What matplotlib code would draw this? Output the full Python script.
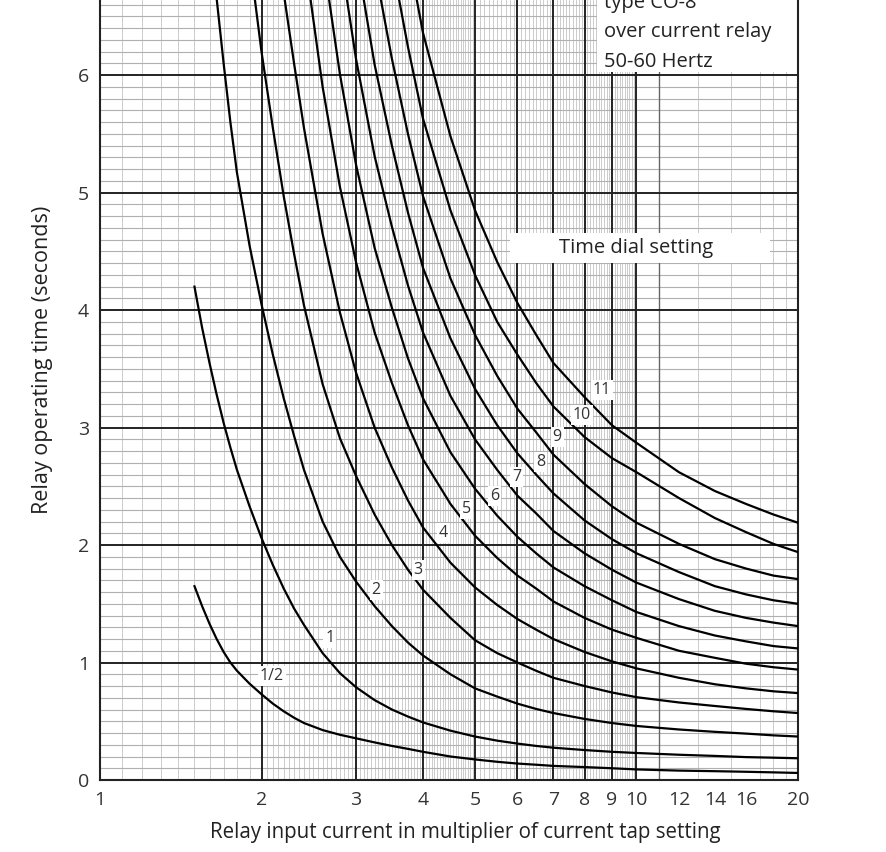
import numpy as np
import matplotlib
matplotlib.use('Agg')
import matplotlib.pyplot as plt
from matplotlib.patches import Rectangle
from matplotlib.ticker import FixedLocator, NullFormatter

plt.rcParams['font.family'] = ['Open Sans', 'DejaVu Sans']

nan = np.nan
# multiplier of current tap setting (x) at which the curves were read
multiplier = [1.5, 1.55, 1.6, 1.65, 1.7, 1.75, 1.8, 1.9, 2.0, 2.1, 2.2, 2.3, 2.4, 2.6, 2.8,
              3.0, 3.25, 3.5, 3.75, 4.0, 4.5, 5.0, 5.5, 6.0, 6.5, 7.0, 8.0, 9.0, 10.0,
              12.0, 14.0, 16.0, 18.0, 20.0]

# operating time (s) for each time dial setting (nan = not drawn there)
td_half = [1.65, 1.48, 1.33, 1.20, 1.09, 1.00, 0.93, 0.82, 0.73, 0.65, 0.585, 0.53, 0.485,
           0.425, 0.385, 0.355, 0.32, 0.29, 0.265, 0.24, 0.20, 0.175, 0.155, 0.14, 0.13,
           0.12, 0.11, 0.10, 0.09, 0.08, 0.075, 0.07, 0.065, 0.06]
td_1 = [4.2, 3.85, 3.55, 3.28, 3.04, 2.83, 2.64, 2.33, 2.06, 1.83, 1.63, 1.46, 1.32, 1.08,
        0.91, 0.79, 0.68, 0.60, 0.54, 0.49, 0.42, 0.37, 0.335, 0.31, 0.29, 0.275, 0.255,
        0.24, 0.23, 0.215, 0.205, 0.195, 0.19, 0.185]
td_2 = [nan] * 2 + [7.3, 6.65, 6.1, 5.6, 5.17, 4.55, 4.05, 3.62, 3.25, 2.93, 2.64, 2.2, 1.9,
                    1.69, 1.48, 1.31, 1.17, 1.06, 0.9, 0.78, 0.71, 0.65, 0.605, 0.57, 0.52,
                    0.485, 0.46, 0.43, 0.41, 0.395, 0.38, 0.37]
td_3 = [nan] * 6 + [7.9, 7.0, 6.2, 5.55, 4.97, 4.48, 4.04, 3.37, 2.91, 2.59, 2.26, 2.0, 1.79,
                    1.62, 1.38, 1.19, 1.08, 1.0, 0.93, 0.87, 0.8, 0.745, 0.705, 0.66, 0.63,
                    0.605, 0.585, 0.57]
td_4 = [nan] * 8 + [8.3, 7.4, 6.7, 6.1, 5.55, 4.65, 3.98, 3.47, 3.0, 2.66, 2.38, 2.15, 1.85,
                    1.64, 1.49, 1.37, 1.28, 1.2, 1.09, 1.01, 0.95, 0.87, 0.815, 0.78, 0.755,
                    0.74]
td_5 = [nan] * 11 + [7.75, 7.05, 5.9, 5.05, 4.41, 3.81, 3.38, 3.02, 2.73, 2.35, 2.08, 1.89,
                     1.74, 1.63, 1.52, 1.38, 1.28, 1.21, 1.10, 1.04, 0.99, 0.96, 0.94]
td_6 = [nan] * 12 + [8.38, 7.02, 6.01, 5.24, 4.53, 4.02, 3.59, 3.25, 2.79, 2.48, 2.25, 2.07,
                     1.93, 1.81, 1.65, 1.53, 1.43, 1.31, 1.23, 1.18, 1.14, 1.12]
td_7 = [nan] * 13 + [8.23, 7.04, 6.14, 5.31, 4.71, 4.21, 3.81, 3.27, 2.90, 2.64, 2.42, 2.27,
                     2.12, 1.93, 1.79, 1.68, 1.54, 1.44, 1.38, 1.34, 1.31]
td_8 = [nan] * 14 + [8.08, 7.04, 6.09, 5.40, 4.83, 4.36, 3.76, 3.33, 3.02, 2.78, 2.60, 2.44,
                     2.21, 2.05, 1.93, 1.77, 1.65, 1.58, 1.53, 1.50]
td_9 = [nan] * 15 + [8.02, 6.93, 6.14, 5.50, 4.97, 4.27, 3.79, 3.44, 3.16, 2.96, 2.77, 2.52,
                     2.33, 2.19, 2.01, 1.88, 1.80, 1.74, 1.71]
td_10 = [nan] * 16 + [7.86, 6.97, 6.24, 5.63, 4.85, 4.30, 3.90, 3.62, 3.38, 3.18, 2.92, 2.74,
                      2.62, 2.40, 2.23, 2.11, 2.01, 1.94]
td_11 = [nan] * 17 + [7.87, 7.04, 6.36, 5.48, 4.85, 4.41, 4.06, 3.79, 3.55, 3.26, 3.02, 2.87,
                      2.62, 2.46, 2.35, 2.26, 2.19]

curves = [td_half, td_1, td_2, td_3, td_4, td_5, td_6, td_7, td_8, td_9, td_10, td_11]
curve_labels = ['1/2', '1', '2', '3', '4', '5', '6', '7', '8', '9', '10', '11']
# where each dial label sits (x multiplier, y seconds)
label_x = [2.09, 2.68, 3.27, 3.92, 4.36, 4.83, 5.43, 5.98, 6.63, 7.11, 7.90, 8.62]
label_y = [0.885, 1.21, 1.62, 1.79, 2.10, 2.31, 2.42, 2.58, 2.71, 2.92, 3.11, 3.32]

x_ticks = [1, 2, 3, 4, 5, 6, 7, 8, 9, 10, 12, 14, 16, 20]
y_ticks = [0, 1, 2, 3, 4, 5, 6]
relay_text = ['type CO-8', 'over current relay', '50-60 Hertz']

XMIN, XMAX, YMIN, YMAX = 1, 20, 0, 6.64

fig = plt.figure(figsize=(8.86, 8.52), dpi=100)
ax = fig.add_axes([100 / 886, 72 / 852, 698 / 886, 780 / 852])
ax.set_xscale('log')
ax.set_xlim(XMIN, XMAX)
ax.set_ylim(YMIN, YMAX)
ax.set_axisbelow(True)

# minor (fine) grid
x_minor = np.concatenate([np.arange(1.1, 1.999, 0.1), np.arange(2.05, 4.999, 0.05),
                          np.arange(5.1, 9.999, 0.1), np.arange(11, 19.5, 1.0)])
x_minor = [v for v in x_minor if abs(v - round(v)) > 1e-6 or v > 10]
y_minor = [v for v in np.arange(0.1, 6.7, 0.1) if abs(v - round(v)) > 1e-6]
ax.xaxis.set_minor_locator(FixedLocator(x_minor))
ax.xaxis.set_minor_formatter(NullFormatter())
ax.yaxis.set_minor_locator(FixedLocator(y_minor))
ax.grid(which='minor', axis='y', color='#b0b0b0', linewidth=0.8)
ax.grid(which='minor', axis='x', color='#c4c4c4', linewidth=0.6)

ax.set_xticks(x_ticks)
ax.set_xticklabels([str(v) for v in x_ticks])
ax.set_yticks(y_ticks)
ax.set_yticklabels([str(v) for v in y_ticks])
ax.tick_params(which='both', length=0)
ax.tick_params(axis='x', pad=8, labelsize=14, colors='#333333')
ax.tick_params(axis='y', pad=8, labelsize=14, colors='#333333')

# major grid lines
ax.vlines([2, 3, 4, 5, 6, 7, 8, 9, 10], YMIN, YMAX, colors='#222222', linewidth=1.4, zorder=1)
ax.vlines([11], YMIN, YMAX, colors='#666666', linewidth=1.0, zorder=1)
ax.hlines([1, 2, 3, 4, 5, 6], XMIN, XMAX, colors='#222222', linewidth=1.4, zorder=1)

for s in ['left', 'bottom', 'right']:
    ax.spines[s].set_linewidth(1.5)
    ax.spines[s].set_color('#222222')
ax.spines['top'].set_visible(False)

# white boxes
ax.add_patch(Rectangle((8.44, 6.03), XMAX - 8.44, 1.0, facecolor='white',
                       edgecolor='none', zorder=2))
ax.add_patch(Rectangle((5.81, 4.40), 17.7 - 5.81, 0.26, facecolor='white',
                       edgecolor='none', zorder=2))
ax.text(10.0, 4.53, 'Time dial setting', ha='center', va='center', fontsize=14.5,
        color='#222222', zorder=3)
for i, line in enumerate(relay_text):
    ax.text(8.68, 6.615 - 0.25 * i, line, ha='left', va='center', fontsize=14.5,
            color='#222222', zorder=3)

for ys in curves:
    ax.plot(multiplier, ys, color='black', linewidth=1.6, zorder=4)

for lab, lx, ly in zip(curve_labels, label_x, label_y):
    ax.text(lx, ly, lab, ha='center', va='center', fontsize=11.5, color='#333333', zorder=5,
            bbox=dict(boxstyle='square,pad=0.12', facecolor='white', edgecolor='none'))

ax.set_xlabel('Relay input current in multiplier of current tap setting', fontsize=14.8,
              color='#222222')
ax.xaxis.set_label_coords((465 - 100) / 698, -(822 - 780) / 780)
ax.set_ylabel('Relay operating time (seconds)', fontsize=15.5, color='#222222')
ax.yaxis.set_label_coords(-(100 - 53) / 698, (780 - 360) / 780)

fig.savefig('out.png', dpi=100)
